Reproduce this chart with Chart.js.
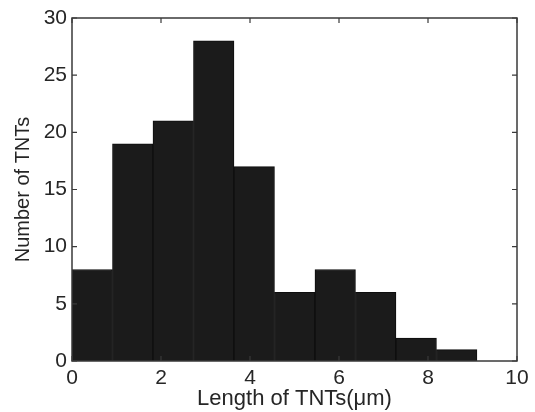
<!DOCTYPE html>
<html>
<head>
<meta charset="utf-8">
<script src="https://cdn.jsdelivr.net/npm/chart.js@4/dist/chart.umd.min.js"></script>
<style>
  html, body { margin: 0; padding: 0; background: #fff; }
  #wrap { width: 535px; height: 412px; }
</style>
</head>
<body>
<div id="wrap"><canvas id="hist" width="535" height="412"></canvas></div>
<script>
// Histogram of TNT lengths (bin centres in µm, counts per bin)
const binCentres = [0.455, 1.365, 2.275, 3.185, 4.095, 5.005, 5.915, 6.825, 7.735, 8.645];
const counts = [8, 19, 21, 28, 17, 6, 8, 6, 2, 1];
const xTicks = [0, 2, 4, 6, 8, 10];
const yTicks = [0, 5, 10, 15, 20, 25, 30];

const FONT = "'Liberation Sans', Arial, sans-serif";
const TEXT = "#262626";

// MATLAB style box with inward ticks on all four sides
const boxTicks = {
  id: "boxTicks",
  afterDraw(chart) {
    const { ctx, chartArea: a, scales } = chart;
    const len = 5;
    ctx.save();
    ctx.strokeStyle = "#3a3a3a";
    ctx.lineWidth = 1.5;
    ctx.strokeRect(a.left, a.top, a.right - a.left, a.bottom - a.top);
    ctx.lineWidth = 1.2;
    ctx.beginPath();
    xTicks.forEach(v => {
      const px = scales.x.getPixelForValue(v);
      ctx.moveTo(px, a.bottom); ctx.lineTo(px, a.bottom - len);
      ctx.moveTo(px, a.top); ctx.lineTo(px, a.top + len);
    });
    yTicks.forEach(v => {
      const py = scales.y.getPixelForValue(v);
      ctx.moveTo(a.left, py); ctx.lineTo(a.left + len, py);
      ctx.moveTo(a.right, py); ctx.lineTo(a.right - len, py);
    });
    ctx.stroke();
    ctx.restore();
  }
};

new Chart(document.getElementById("hist"), {
  type: "bar",
  data: {
    datasets: [{
      data: binCentres.map((c, i) => ({ x: c, y: counts[i] })),
      backgroundColor: "#1b1b1b",
      borderColor: "#0e0e0e",
      borderWidth: 1,
      barPercentage: 1,
      categoryPercentage: 1
    }]
  },
  options: {
    responsive: false,
    animation: false,
    layout: { padding: { top: 18, right: 18, left: 0, bottom: 0 } },
    plugins: { legend: { display: false }, tooltip: { enabled: false } },
    scales: {
      x: {
        type: "linear",
        offset: false,
        min: 0,
        max: 10,
        afterBuildTicks: s => { s.ticks = xTicks.map(v => ({ value: v })); },
        afterFit: s => { s.height = 51; },
        grid: { display: false, drawTicks: false },
        border: { display: false },
        ticks: { color: TEXT, font: { family: FONT, size: 21 }, padding: 5, maxRotation: 0 },
        title: {
          display: true,
          text: "Length of TNTs(μm)",
          color: TEXT,
          font: { family: FONT, size: 22 },
          padding: { top: -7, bottom: 0 }
        }
      },
      y: {
        min: 0,
        max: 30,
        afterBuildTicks: s => { s.ticks = yTicks.map(v => ({ value: v })); },
        afterFit: s => { s.width = 72; },
        grid: { display: false, drawTicks: false },
        border: { display: false },
        ticks: { color: TEXT, font: { family: FONT, size: 21 }, padding: 5 },
        title: {
          display: true,
          text: "Number of TNTs",
          color: TEXT,
          font: { family: FONT, size: 20 },
          padding: { top: 11, bottom: 0 }
        }
      }
    }
  },
  plugins: [boxTicks]
});
</script>
</body>
</html>
